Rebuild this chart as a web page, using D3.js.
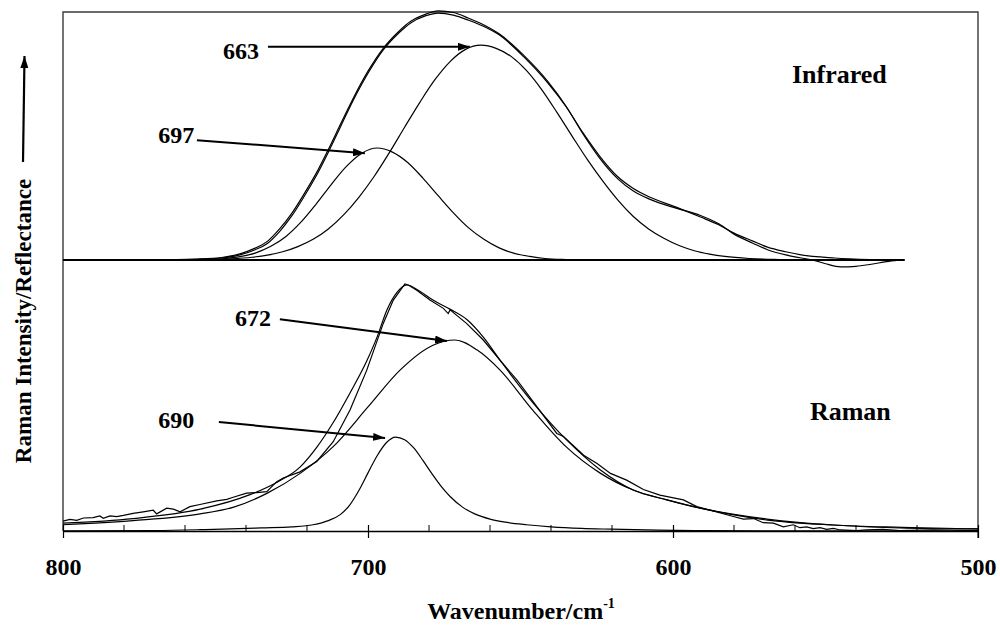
<!DOCTYPE html>
<html>
<head>
<meta charset="utf-8">
<script src="https://cdn.jsdelivr.net/npm/d3@7"></script>
<style>
	body {margin: 0; background: #fff}
	svg text {font-family: "Liberation Serif", "Tinos", "DejaVu Serif", "Noto Serif", "Times New Roman", Times, serif; font-weight: bold; fill: #000}
</style>
</head>
<body>
<svg id="chart" width="1000" height="626" font-family="Liberation Serif"></svg>
<script>
'use strict';
// data: [wavenumber (cm-1), intensity (arb.)]
const irOffset = 5.22 // infrared trace sits above the raman one
const irBaseEnd = 524

const ir697 = [[760,0],[755,0.005],[747,0.03],[742,0.065],[737,0.135],[732,0.26],[727,0.45],[722,0.73],
	[717,1.08],[712,1.46],[707,1.81],[702,2.06],[697,2.16],[692,2.08],[687,1.88],[682,1.58],[677,1.24],
	[672,0.91],[667,0.62],[662,0.40],[657,0.235],[652,0.13],[647,0.07],[642,0.03],[635,0.01],[625,0]]

const ir663 = [[760,0],[755,0.005],[745,0.024],[738,0.055],[733,0.095],[728,0.16],[723,0.26],[718,0.40],
	[713,0.60],[708,0.87],[703,1.21],[698,1.61],[693,2.07],[688,2.56],[683,3.04],[678,3.48],[673,3.83],
	[668,4.06],[663,4.14],[658,4.08],[653,3.92],[648,3.65],[643,3.28],[638,2.84],[633,2.38],[628,1.93],
	[623,1.52],[618,1.15],[613,0.84],[608,0.60],[603,0.42],[598,0.28],[593,0.18],[588,0.115],[583,0.07],
	[575,0.03],[565,0.01],[555,0]]

const irFit = [[800,0],[770,0.002],[756,0.015],[748,0.04],[742,0.1],[737,0.2],[733,0.32],[729,0.55],
	[725,0.85],[721,1.22],[717,1.62],[713,2.08],[709,2.57],[705,3.06],[700,3.6],[695,4.05],[690,4.37],
	[686,4.57],[681,4.71],[677,4.76],[672,4.72],[667,4.62],[662,4.5],[657,4.34],[649,3.92],[641,3.41],
	[635,2.95],[629.5,2.45],[624,2.0],[618,1.6],[613,1.38],[607.5,1.21],[599,1.02],[591,0.83],[585,0.68],
	[580,0.52],[574,0.37],[569,0.25],[563,0.16],[558,0.10],[547,0.04],[535,0.01],[527,0]]

const irMeasured = [[800,0],[770,0.003],[756,0.02],[748,0.05],[742,0.12],[737,0.23],[733,0.36],[729,0.6],
	[725,0.9],[721,1.27],[717,1.67],[713,2.13],[709,2.62],[705,3.1],[700,3.64],[695,4.08],[690,4.40],
	[686,4.6],[681,4.74],[677,4.8],[672,4.77],[667,4.66],[662,4.53],[657,4.36],[649,3.95],[641,3.44],
	[635,2.96],[629.5,2.43],[624,1.96],[618,1.56],[613,1.33],[607.5,1.17],[599,1.0],[591,0.86],[585,0.7],
	[580,0.5],[574,0.33],[569,0.2],[563,0.1],[558,0.04],[554,0],[550,-0.07],[545,-0.13],[540,-0.12],
	[535,-0.08],[530,-0.03],[526,0]]

const raman690 = [[800,0.005],[770,0.01],[755,0.025],[745,0.04],[735,0.06],[725,0.08],[718,0.12],[713,0.2],
	[709,0.32],[706,0.5],[703,0.78],[700,1.12],[697,1.45],[694,1.7],[691,1.81],[688,1.76],[685,1.6],
	[682,1.36],[679,1.1],[676,0.86],[673,0.66],[669,0.46],[665,0.33],[660,0.23],[655,0.17],[648,0.12],
	[640,0.08],[630,0.05],[620,0.035],[605,0.015],[590,0.008],[560,0.003],[500,0]]

const raman672 = [[800,0.12],[777,0.2],[755,0.33],[744,0.46],[733,0.73],[722,1.12],[711.5,1.62],[700,2.39],
	[689.5,3.10],[678.7,3.58],[671.5,3.68],[664.3,3.49],[656.7,3.10],[646,2.33],[635,1.62],[624,1.12],
	[613,0.79],[602,0.60],[591,0.44],[580,0.31],[569,0.21],[547.5,0.116],[525.6,0.058],[500,0.04]]

const ramanFit = [[800,0.15],[777,0.24],[755,0.42],[738.7,0.70],[729.8,0.94],[722.3,1.23],[716.7,1.62],
	[711.5,2.08],[705.9,2.66],[700.3,3.29],[697,3.74],[693.8,4.26],[690.5,4.60],[687.2,4.74],[683,4.62],
	[678.7,4.45],[673,4.27],[667.5,4.07],[662,3.72],[656.7,3.29],[645.9,2.47],[634.8,1.75],[623.9,1.18],
	[613.1,0.79],[602,0.60],[591.1,0.44],[580,0.32],[569.2,0.23],[547.5,0.116],[525,0.07],[500,0.04]]

const ramanMeasured = [[800,0.19],[797.7,0.225],[795.5,0.205],[793.3,0.25],[790.1,0.257],[787.9,0.29],
	[786.8,0.245],[784.6,0.29],[782.4,0.276],[780.2,0.30],[777,0.34],[773.7,0.37],[770.4,0.40],[769.3,0.33],
	[766,0.44],[763.8,0.42],[761.6,0.37],[758.4,0.47],[755.1,0.51],[749.6,0.58],[746.3,0.61],[744.2,0.65],
	[739.8,0.73],[736.5,0.74],[733.2,0.76],[729.9,0.95],[727.8,1.02],[722.3,1.14],[716.8,1.34],[711.4,1.72],
	[705.9,2.33],[700.4,3.10],[695,4.00],[691.7,4.45],[687.9,4.76],[686.8,4.74],[684,4.64],[679.7,4.45],
	[675.3,4.29],[673.7,4.19],[673.1,4.26],[667.7,4.00],[662.2,3.68],[656.7,3.29],[651.2,2.91],[645.8,2.49],
	[638.1,1.88],[635.9,1.82],[629.3,1.46],[624.9,1.30],[620.5,1.11],[615.2,0.98],[609.7,0.80],[604.3,0.69],
	[596.6,0.60],[592.2,0.47],[585.7,0.37],[580.2,0.28],[576.9,0.23],[573.6,0.24],[570.4,0.16],[567.1,0.15],
	[563.8,0.08],[560.6,0.12],[558.4,0.064],[556.2,0.08],[554,0.045],[551.8,0.064],[549.6,0.03],[547.4,0.05],
	[545.2,0.02],[539.8,0.006],[536.5,0.02],[531.1,0.03],[525.6,0.006],[514.6,0.02],[500,0.006]]

const majorTicks = [800, 700, 600, 500]
const minorTicks = [780, 760, 740, 720, 680, 660, 640, 620, 580, 560, 540, 520]

// annotations: label, label anchor [cm, y], arrow from [cm, y] to [cm, y]
const peakNotes = [
	{text: "663", at: [735.7, 9.10], from: [732.8, 9.33], to: [666.6, 9.33]},
	{text: "697", at: [757.0, 7.48], from: [756.1, 7.53], to: [701.0, 7.28]},
	{text: "672", at: [731.8, 3.95], from: [728.9, 4.08], to: [674.1, 3.66]},
	{text: "690", at: [757.0, 1.98], from: [748.9, 2.10], to: [694.4, 1.79]}]
const panelNotes = [{text: "Infrared", at: [561, 8.63]}, {text: "Raman", at: [555.1, 2.14]}]

let eSvg = d3.select("#chart")
let dLeft = 63, dRight = 978, dTop = 12, dBottom = 531

let x = d3.scaleLinear().domain([800, 500]).range([dLeft, dRight])
let y = d3.scaleLinear().domain([0, 10]).range([dBottom, dTop])

let defs = eSvg.append("defs")
defs.append("marker").attr("id", "head")
	.attr("markerUnits", "userSpaceOnUse")
	.attr("viewBox", "0 0 12 8").attr("refX", 12).attr("refY", 4)
	.attr("markerWidth", 12).attr("markerHeight", 8).attr("orient", "auto")
	.append("path").attr("d", "M0,0 L12,4 L0,8 Z").attr("fill", "#000")

// frame (left, top, right)
eSvg.append("path")
	.attr("d", `M${dLeft},${dBottom} V${dTop} H${dRight} V${dBottom + 7}`)
	.attr("fill", "none").attr("stroke", "#3a3a3a").attr("stroke-width", 1.4)

function line(off) {
	return d3.line().x(d => x(d[0])).y(d => y(d[1] + off)).curve(d3.curveMonotoneX)}

let gCurves = eSvg.append("g").attr("fill", "none").attr("stroke", "#000").attr("stroke-width", 1.2)

// infrared baseline
gCurves.append("path").datum([[800, 0], [irBaseEnd, 0]])
	.attr("d", line(irOffset)).attr("stroke-width", 2)

;[ir697, ir663, irFit, irMeasured].forEach(s => {
	gCurves.append("path").datum(s).attr("d", line(irOffset))})

;[raman690, raman672, ramanFit].forEach(s => {
	gCurves.append("path").datum(s).attr("d", line(0))})

gCurves.append("path").datum(ramanMeasured)
	.attr("d", line(0).curve(d3.curveLinear))

// x axis: majors cross the line, minors point inward
let gAxis = eSvg.append("g").attr("transform", `translate(0,${dBottom})`)
gAxis.call(d3.axisBottom(x).tickValues(majorTicks).tickSize(7).tickSizeOuter(0).tickPadding(8))
gAxis.attr("font-family", null).attr("font-size", null)
gAxis.select(".domain").attr("stroke", "#000").attr("stroke-width", 1.4)
gAxis.selectAll(".tick line").attr("stroke", "#000").attr("stroke-width", 1.2).attr("y1", -6)
gAxis.selectAll(".tick text")
	.attr("y", 44).attr("dy", 0)
	.style("font-size", "24px")

eSvg.append("g").attr("transform", `translate(0,${dBottom})`)
	.selectAll("line").data(minorTicks).enter().append("line")
	.attr("x1", d => x(d)).attr("x2", d => x(d))
	.attr("y1", 0).attr("y2", -6)
	.attr("stroke", "#000").attr("stroke-width", 1)

// axis titles
let tX = eSvg.append("text").attr("x", 521).attr("y", 619)
	.attr("text-anchor", "middle").style("font-size", "24px")
tX.append("tspan").text("Wavenumber/cm")
tX.append("tspan").text("-1").attr("dy", -11).style("font-size", "14px")

eSvg.append("text").attr("transform", "translate(31,321) rotate(-90)")
	.attr("text-anchor", "middle").style("font-size", "23px")
	.text("Raman Intensity/Reflectance")

eSvg.append("line").attr("x1", 23).attr("y1", 162).attr("x2", 24.5).attr("y2", 56)
	.attr("stroke", "#000").attr("stroke-width", 2.2).attr("marker-end", "url(#head)")

// peak labels and arrows
let gNotes = eSvg.append("g")
gNotes.selectAll("text").data(peakNotes).enter().append("text")
	.attr("x", d => x(d.at[0])).attr("y", d => y(d.at[1]))
	.attr("text-anchor", "end").style("font-size", "24px")
	.text(d => d.text)
gNotes.selectAll("line").data(peakNotes).enter().append("line")
	.attr("x1", d => x(d.from[0])).attr("y1", d => y(d.from[1]))
	.attr("x2", d => x(d.to[0])).attr("y2", d => y(d.to[1]))
	.attr("stroke", "#000").attr("stroke-width", 2).attr("marker-end", "url(#head)")

eSvg.append("g").selectAll("text").data(panelNotes).enter().append("text")
	.attr("x", d => x(d.at[0])).attr("y", d => y(d.at[1]))
	.style("font-size", "26px")
	.text(d => d.text)
</script>
</body>
</html>
